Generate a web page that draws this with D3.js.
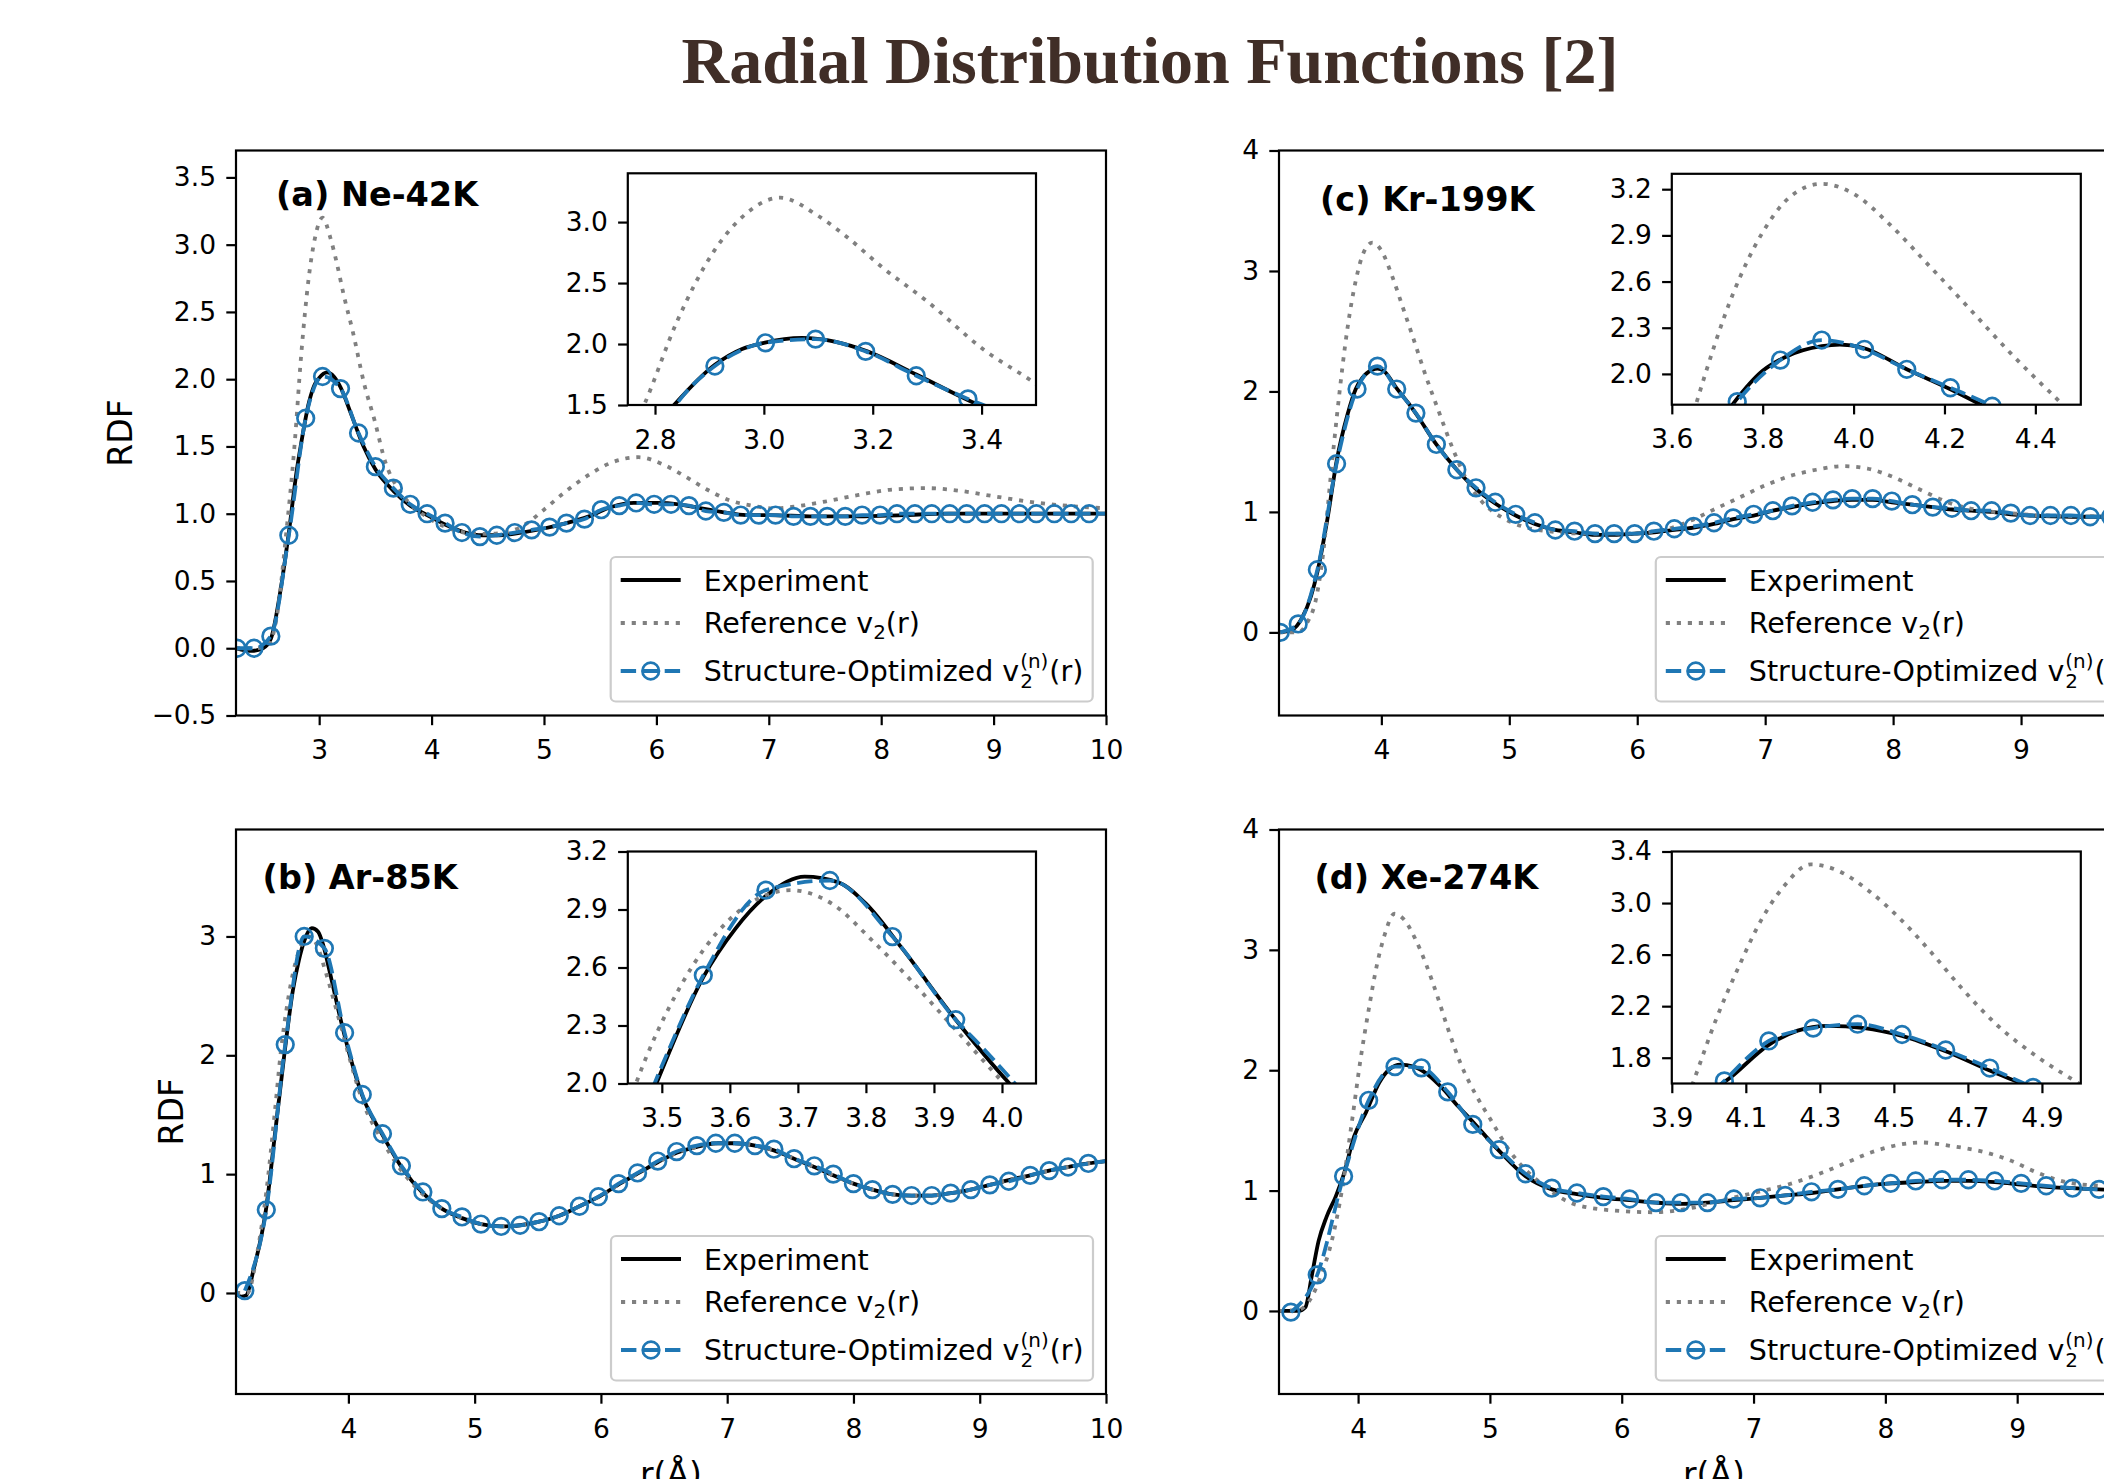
<!DOCTYPE html>
<html lang="en">
<head>
<meta charset="UTF-8">
<title>Radial Distribution Functions [2]</title>
<script src="https://cdn.jsdelivr.net/npm/d3@7"></script>
<style>
body { margin: 0; background: #fff; }
svg { display: block; }
text { font-family: "DejaVu Sans", sans-serif; }
</style>
</head>
<body>
<svg width="2104" height="1479"></svg>
<script>
// ---- data: [r (Å), g(r)] ----

// (a) Ne-42K
var neExp = [[2.26,0.00],[2.40,-0.02],[2.50,0.00],[2.57,0.07],[2.65,0.40],[2.73,0.86],[2.80,1.32],[2.835,1.50],[2.91,1.83],[2.96,1.96],[3.00,2.01],[3.07,2.05],[3.13,2.02],[3.19,1.94],[3.28,1.75],[3.395,1.50],[3.50,1.33],[3.66,1.17],[3.81,1.06],[3.96,0.99],[4.12,0.92],[4.30,0.86],[4.45,0.84],[4.60,0.84],[4.80,0.86],[5.00,0.89],[5.20,0.93],[5.40,0.98],[5.60,1.05],[5.80,1.08],[6.00,1.08],[6.20,1.07],[6.40,1.04],[6.60,1.01],[6.80,0.99],[7.00,0.99],[7.40,0.98],[7.80,0.98],[8.20,0.99],[8.60,1.00],[9.00,1.00],[10.0,1.00]];
var neRef = [[2.26,0.00],[2.45,0.00],[2.55,0.03],[2.63,0.27],[2.70,0.80],[2.78,1.50],[2.84,2.18],[2.908,2.76],[2.96,3.04],[3.03,3.20],[3.10,3.05],[3.152,2.88],[3.22,2.62],[3.30,2.35],[3.405,1.95],[3.491,1.70],[3.59,1.38],[3.70,1.19],[3.79,1.09],[3.95,0.98],[4.10,0.91],[4.30,0.86],[4.50,0.85],[4.70,0.87],[4.85,0.93],[5.00,1.03],[5.20,1.17],[5.42,1.30],[5.60,1.38],[5.84,1.42],[6.05,1.37],[6.25,1.28],[6.45,1.18],[6.65,1.10],[6.85,1.06],[7.05,1.04],[7.20,1.05],[7.50,1.09],[7.80,1.14],[8.10,1.18],[8.40,1.19],[8.70,1.17],[9.00,1.13],[9.40,1.08],[9.80,1.05],[10.0,1.04]];
var neOpt = [[2.27,0.00],[2.42,0.00],[2.57,0.09],[2.73,0.84],[2.88,1.71],[3.03,2.02],[3.19,1.93],[3.35,1.60],[3.50,1.35],[3.66,1.19],[3.81,1.07],[3.96,1.00],[4.12,0.93],[4.27,0.86],[4.43,0.83],[4.58,0.84],[4.74,0.86],[4.89,0.88],[5.05,0.90],[5.20,0.93],[5.36,0.96],[5.51,1.03],[5.67,1.06],[5.82,1.08],[5.98,1.07],[6.13,1.07],[6.29,1.06],[6.44,1.02],[6.60,1.01],[6.75,0.99],[6.91,0.99],[7.06,0.99],[7.22,0.98],[7.37,0.98],[7.52,0.98],[7.68,0.98],[7.83,0.99],[7.99,0.99],[8.14,1.00],[8.30,1.00],[8.45,1.00],[8.61,1.00],[8.76,1.00],[8.92,1.00],[9.07,1.00],[9.23,1.00],[9.38,1.00],[9.54,1.00],[9.69,1.00],[9.85,1.00],[10.0,1.00]];
var neOptInset = [[2.91,1.82],[3.003,2.01],[3.095,2.04],[3.187,1.94],[3.28,1.74],[3.375,1.55]];

// (b) Ar-85K
var arExp = [[3.11,0.00],[3.15,-0.03],[3.19,-0.02],[3.25,0.20],[3.35,0.72],[3.42,1.35],[3.492,2.00],[3.561,2.55],[3.608,2.80],[3.653,2.97],[3.71,3.07],[3.76,3.04],[3.80,2.93],[3.853,2.70],[3.932,2.33],[4.011,2.00],[4.11,1.66],[4.27,1.33],[4.42,1.06],[4.59,0.84],[4.74,0.71],[4.90,0.63],[5.05,0.58],[5.21,0.56],[5.36,0.57],[5.51,0.60],[5.67,0.65],[5.83,0.73],[6.00,0.82],[6.15,0.92],[6.30,1.01],[6.45,1.10],[6.60,1.18],[6.76,1.23],[6.91,1.26],[7.06,1.26],[7.22,1.24],[7.37,1.20],[7.53,1.13],[7.69,1.06],[7.84,0.99],[8.00,0.92],[8.15,0.87],[8.31,0.83],[8.46,0.82],[8.62,0.82],[8.77,0.84],[8.93,0.87],[9.08,0.91],[9.23,0.95],[9.40,0.99],[9.55,1.03],[9.70,1.06],[9.86,1.09],[10.0,1.11]];
var arRef = [[3.11,0.00],[3.20,0.00],[3.28,0.35],[3.35,0.85],[3.42,1.55],[3.462,2.00],[3.527,2.50],[3.60,2.85],[3.69,3.00],[3.75,2.93],[3.812,2.73],[3.934,2.27],[4.003,2.00],[4.11,1.62],[4.27,1.28],[4.42,1.03],[4.59,0.83],[4.74,0.71],[4.90,0.63],[5.05,0.58],[5.21,0.56],[5.36,0.57],[5.51,0.60],[5.67,0.65],[5.83,0.73],[6.00,0.82],[6.15,0.92],[6.30,1.01],[6.45,1.10],[6.60,1.18],[6.76,1.23],[6.91,1.26],[7.06,1.26],[7.22,1.24],[7.37,1.20],[7.53,1.13],[7.69,1.06],[7.84,0.99],[8.00,0.92],[8.15,0.87],[8.31,0.83],[8.46,0.82],[8.62,0.82],[8.77,0.84],[8.93,0.87],[9.08,0.91],[9.23,0.95],[9.40,0.99],[9.55,1.03],[9.70,1.06],[9.86,1.09],[10.0,1.11]];
var arOpt = [[3.18,0.02],[3.35,0.70],[3.50,2.09],[3.65,3.00],[3.81,2.90],[3.97,2.19],[4.11,1.67],[4.27,1.34],[4.42,1.07],[4.59,0.85],[4.74,0.71],[4.90,0.64],[5.05,0.58],[5.21,0.56],[5.36,0.57],[5.51,0.60],[5.67,0.65],[5.83,0.73],[5.98,0.81],[6.14,0.92],[6.29,1.01],[6.45,1.11],[6.60,1.19],[6.76,1.24],[6.91,1.26],[7.06,1.26],[7.22,1.24],[7.37,1.21],[7.53,1.13],[7.69,1.07],[7.84,1.00],[8.00,0.92],[8.15,0.87],[8.31,0.83],[8.46,0.82],[8.62,0.82],[8.77,0.84],[8.93,0.87],[9.08,0.91],[9.23,0.94],[9.40,0.99],[9.55,1.03],[9.70,1.06],[9.86,1.09],[10.0,1.11]];
var arOptInset = [[3.561,2.56],[3.653,3.00],[3.747,3.05],[3.839,2.76],[3.932,2.33]];

// (c) Kr-199K
var krExp = [[3.20,0.00],[3.30,0.02],[3.38,0.12],[3.45,0.30],[3.50,0.50],[3.58,0.95],[3.65,1.42],[3.736,1.81],[3.80,2.02],[3.85,2.11],[3.93,2.18],[3.97,2.19],[4.02,2.17],[4.117,2.03],[4.213,1.90],[4.28,1.80],[4.43,1.56],[4.59,1.35],[4.74,1.19],[4.89,1.07],[5.05,0.97],[5.20,0.90],[5.36,0.85],[5.51,0.83],[5.67,0.81],[5.82,0.81],[5.98,0.82],[6.13,0.83],[6.29,0.85],[6.44,0.87],[6.60,0.90],[6.75,0.94],[6.91,0.97],[7.06,1.01],[7.21,1.04],[7.37,1.07],[7.53,1.09],[7.68,1.10],[7.84,1.10],[7.99,1.08],[8.15,1.06],[8.31,1.04],[8.46,1.02],[8.61,1.01],[8.77,1.00],[8.92,0.98],[9.07,0.97],[9.40,0.96],[10.0,0.96]];
var krRef = [[3.20,0.00],[3.35,0.00],[3.42,0.08],[3.49,0.28],[3.55,0.70],[3.60,1.25],[3.654,1.81],[3.736,2.53],[3.80,2.92],[3.86,3.15],[3.93,3.235],[4.00,3.17],[4.08,2.97],[4.164,2.71],[4.25,2.44],[4.347,2.13],[4.45,1.83],[4.56,1.52],[4.68,1.24],[4.79,1.08],[4.95,0.95],[5.10,0.88],[5.30,0.84],[5.60,0.82],[5.90,0.82],[6.20,0.85],[6.40,0.92],[6.60,1.02],[6.80,1.12],[7.00,1.22],[7.20,1.30],[7.40,1.35],[7.61,1.38],[7.80,1.36],[8.00,1.29],[8.20,1.19],[8.48,1.06],[8.70,1.01],[8.91,0.99],[9.20,0.97],[10.0,0.96]];
var krOpt = [[3.21,0.00],[3.35,0.07],[3.50,0.52],[3.65,1.40],[3.81,2.02],[3.97,2.21],[4.12,2.02],[4.27,1.82],[4.43,1.56],[4.59,1.35],[4.74,1.20],[4.89,1.08],[5.05,0.98],[5.20,0.91],[5.36,0.85],[5.51,0.84],[5.67,0.82],[5.82,0.82],[5.98,0.82],[6.13,0.84],[6.29,0.86],[6.44,0.88],[6.60,0.91],[6.75,0.95],[6.91,0.98],[7.06,1.01],[7.21,1.05],[7.37,1.08],[7.53,1.10],[7.68,1.11],[7.84,1.11],[7.99,1.09],[8.15,1.06],[8.31,1.04],[8.46,1.03],[8.61,1.01],[8.77,1.01],[8.92,0.99],[9.07,0.97],[9.23,0.97],[9.39,0.97],[9.54,0.96],[9.70,0.96],[9.85,0.96],[10.0,0.96]];
var krOptInset = [[3.744,1.82],[3.839,2.09],[3.93,2.22],[4.024,2.16],[4.117,2.03],[4.213,1.91],[4.305,1.79]];

// (d) Xe-274K
var xeExp = [[3.40,0.00],[3.55,0.00],[3.60,0.03],[3.65,0.30],[3.70,0.58],[3.76,0.78],[3.83,0.95],[3.89,1.13],[3.97,1.45],[4.06,1.65],[4.162,1.90],[4.24,2.01],[4.32,2.047],[4.42,2.03],[4.522,1.97],[4.64,1.85],[4.759,1.70],[4.846,1.60],[5.07,1.33],[5.27,1.12],[5.47,1.01],[5.66,0.97],[5.86,0.94],[6.06,0.92],[6.26,0.90],[6.45,0.89],[6.65,0.90],[6.85,0.92],[7.05,0.94],[7.24,0.96],[7.44,0.98],[7.64,1.01],[7.84,1.04],[8.04,1.06],[8.23,1.07],[8.43,1.08],[8.63,1.08],[8.83,1.07],[9.03,1.05],[9.22,1.03],[9.42,1.02],[9.62,1.01],[10.0,1.00]];
var xeRef = [[3.40,0.00],[3.55,0.01],[3.65,0.12],[3.72,0.30],[3.80,0.58],[3.88,1.02],[3.954,1.58],[4.02,2.10],[4.08,2.50],[4.14,2.86],[4.20,3.12],[4.276,3.30],[4.35,3.25],[4.43,3.10],[4.516,2.88],[4.60,2.62],[4.68,2.35],[4.78,2.05],[4.891,1.80],[5.00,1.60],[5.15,1.33],[5.41,1.04],[5.66,0.88],[6.00,0.83],[6.25,0.82],[6.50,0.85],[6.80,0.93],[7.00,0.98],[7.26,1.05],[7.50,1.14],[7.68,1.22],[7.90,1.32],[8.10,1.38],[8.27,1.40],[8.50,1.37],[8.75,1.32],[8.95,1.25],[9.15,1.15],[9.37,1.07],[9.62,1.04],[10.0,1.02]];
var xeOpt = [[3.49,-0.01],[3.69,0.30],[3.89,1.12],[4.08,1.75],[4.28,2.03],[4.48,2.02],[4.68,1.82],[4.87,1.55],[5.07,1.34],[5.27,1.14],[5.47,1.02],[5.66,0.98],[5.86,0.95],[6.06,0.93],[6.26,0.90],[6.45,0.90],[6.65,0.90],[6.85,0.93],[7.05,0.94],[7.24,0.96],[7.44,0.99],[7.64,1.01],[7.84,1.04],[8.04,1.06],[8.23,1.08],[8.43,1.09],[8.63,1.09],[8.83,1.08],[9.03,1.06],[9.22,1.04],[9.42,1.02],[9.62,1.01],[9.82,1.00],[10.0,1.00]];
var xeOptInset = [[4.042,1.62],[4.162,1.93],[4.282,2.03],[4.402,2.06],[4.522,1.98],[4.64,1.86],[4.759,1.72],[4.876,1.57]];

// tick values
var neXTicks = [3, 4, 5, 6, 7, 8, 9, 10];
var neYTicks = [-0.5, 0, 0.5, 1.0, 1.5, 2.0, 2.5, 3.0, 3.5];
var neInXTicks = [2.8, 3.0, 3.2, 3.4];
var neInYTicks = [1.5, 2.0, 2.5, 3.0];
var arXTicks = [4, 5, 6, 7, 8, 9, 10];
var arYTicks = [0, 1, 2, 3];
var arInXTicks = [3.5, 3.6, 3.7, 3.8, 3.9, 4.0];
var arInYTicks = [2.0, 2.3, 2.6, 2.9, 3.2];
var krXTicks = [4, 5, 6, 7, 8, 9, 10];
var krYTicks = [0, 1, 2, 3, 4];
var krInXTicks = [3.6, 3.8, 4.0, 4.2, 4.4];
var krInYTicks = [2.0, 2.3, 2.6, 2.9, 3.2];
var xeXTicks = [4, 5, 6, 7, 8, 9, 10];
var xeYTicks = [0, 1, 2, 3, 4];
var xeInXTicks = [3.9, 4.1, 4.3, 4.5, 4.7, 4.9];
var xeInYTicks = [1.8, 2.2, 2.6, 3.0, 3.4];

var titleText = "Radial Distribution Functions [2]";

// ---- layout ----
var panels = [
    {label: "(a) Ne-42K", exp: neExp, ref: neRef, opt: neOpt, optIn: neOptInset,
     box: [236, 150.5, 1106, 715.5], xd: [2.26, 10], yd: [-0.5, 3.7], xt: neXTicks, yt: neYTicks, yf: ".1f",
     inBox: [627.8, 173.3, 1036, 405], inXd: [2.75, 3.5], inYd: [1.5, 3.4], inXt: neInXTicks, inYt: neInYTicks,
     leg: [610.7, 557], lab: [276, 205.5], ylab: 120, xlab: false},
    {label: "(b) Ar-85K", exp: arExp, ref: arRef, opt: arOpt, optIn: arOptInset,
     box: [236, 829.5, 1106, 1394], xd: [3.11, 10], yd: [-0.85, 3.9], xt: arXTicks, yt: arYTicks, yf: "d",
     inBox: [627.8, 851.5, 1036, 1083.5], inXd: [3.45, 4.05], inYd: [2.0, 3.2], inXt: arInXTicks, inYt: arInYTicks,
     leg: [611, 1236], lab: [262.6, 889], ylab: 171, xlab: true},
    {label: "(c) Kr-199K", exp: krExp, ref: krRef, opt: krOpt, optIn: krOptInset,
     box: [1279, 150.5, 2149, 715.5], xd: [3.2, 10], yd: [-0.69, 4], xt: krXTicks, yt: krYTicks, yf: "d",
     inBox: [1671.8, 173.8, 2080.8, 404.7], inXd: [3.6, 4.5], inYd: [1.8, 3.3], inXt: krInXTicks, inYt: krInYTicks,
     leg: [1655.8, 557], lab: [1320, 211], ylab: null, xlab: false},
    {label: "(d) Xe-274K", exp: xeExp, ref: xeRef, opt: xeOpt, optIn: xeOptInset,
     box: [1279, 829.5, 2149, 1394], xd: [3.4, 10], yd: [-0.69, 4], xt: xeXTicks, yt: xeYTicks, yf: "d",
     inBox: [1671.8, 851.5, 2080.8, 1083.5], inXd: [3.9, 5.005], inYd: [1.6, 3.4], inXt: xeInXTicks, inYt: xeInYTicks,
     leg: [1655.8, 1236], lab: [1314.5, 889], ylab: null, xlab: true}
];

var BLUE = "#1f77b4", GREY = "#808080";
var LW = 3.8, SPINE = 2.2, TICK = 9.7, TICKFONT = "26.5px";

var svg = d3.select("svg");
var defs = svg.append("defs");

svg.append("text")
    .attr("x", 1150).attr("y", 83)
    .attr("text-anchor", "middle")
    .style("font-family", "'Liberation Serif', 'Times New Roman', serif")
    .style("font-weight", "bold")
    .style("font-size", "66px")
    .attr("fill", "#402e27")
    .text(titleText);

panels.forEach(function(p, i) { drawPanel(p, i); });

function drawPanel(p, i) {
    var g = svg.append("g");
    var x = d3.scaleLinear().domain(p.xd).range([p.box[0], p.box[2]]);
    var y = d3.scaleLinear().domain(p.yd).range([p.box[3], p.box[1]]);

    var cid = "clip-main-" + i;
    addClip(cid, p.box);
    var markers = p.opt.filter(function(d) { return d[0] < p.xd[1] - 0.02; });
    drawSeries(g, x, y, p.exp, p.ref, p.opt, markers, cid);

    drawAxes(g, x, y, p.box, p.xt, p.yt, "d", p.yf);
    frame(g, p.box);

    g.append("text")
        .attr("x", p.lab[0]).attr("y", p.lab[1])
        .style("font-weight", "bold").style("font-size", "33.5px")
        .text(p.label);

    if (p.ylab) {
        g.append("text")
            .attr("transform", "translate(" + p.ylab + "," + ((p.box[1] + p.box[3]) / 2) + ") rotate(-90)")
            .attr("text-anchor", "middle").attr("dy", "0.35em")
            .style("font-size", "33px")
            .text("RDF");
    }
    if (p.xlab) {
        g.append("text")
            .attr("x", (p.box[0] + p.box[2]) / 2).attr("y", 1486)
            .attr("text-anchor", "middle")
            .style("font-size", "33px")
            .text("r(Å)");
    }

    drawLegend(g, p.leg[0], p.leg[1]);

    // inset axes
    var gi = svg.append("g");
    var xi = d3.scaleLinear().domain(p.inXd).range([p.inBox[0], p.inBox[2]]);
    var yi = d3.scaleLinear().domain(p.inYd).range([p.inBox[3], p.inBox[1]]);
    gi.append("rect")
        .attr("x", p.inBox[0]).attr("y", p.inBox[1])
        .attr("width", p.inBox[2] - p.inBox[0]).attr("height", p.inBox[3] - p.inBox[1])
        .attr("fill", "white");
    var icid = "clip-inset-" + i;
    addClip(icid, p.inBox);
    var lo = d3.min(p.optIn, function(d) { return d[0]; }),
        hi = d3.max(p.optIn, function(d) { return d[0]; });
    var optLine = p.opt.filter(function(d) { return d[0] < lo || d[0] > hi; })
        .concat(p.optIn)
        .sort(function(a, b) { return a[0] - b[0]; });
    drawSeries(gi, xi, yi, p.exp, p.ref, optLine, p.optIn, icid);
    drawAxes(gi, xi, yi, p.inBox, p.inXt, p.inYt, ".1f", ".1f");
    frame(gi, p.inBox);
}

function addClip(id, b) {
    defs.append("clipPath").attr("id", id).append("rect")
        .attr("x", b[0]).attr("y", b[1])
        .attr("width", b[2] - b[0]).attr("height", b[3] - b[1]);
}

function drawSeries(g, x, y, exp, ref, optLine, optMarks, clipId) {
    var line = d3.line()
        .x(function(d) { return x(d[0]); })
        .y(function(d) { return y(d[1]); })
        .curve(d3.curveMonotoneX);
    var cg = g.append("g").attr("clip-path", "url(#" + clipId + ")");
    cg.append("path").datum(exp).attr("d", line)
        .attr("fill", "none").attr("stroke", "black").attr("stroke-width", LW);
    cg.append("path").datum(ref).attr("d", line)
        .attr("fill", "none").attr("stroke", GREY).attr("stroke-width", LW)
        .attr("stroke-dasharray", "4.15,6.86");
    cg.append("path").datum(optLine).attr("d", line)
        .attr("fill", "none").attr("stroke", BLUE).attr("stroke-width", LW)
        .attr("stroke-dasharray", "15.4,6.6");
    cg.selectAll("circle").data(optMarks).join("circle")
        .attr("cx", function(d) { return x(d[0]); })
        .attr("cy", function(d) { return y(d[1]); })
        .attr("r", 8.3)
        .attr("fill", "none").attr("stroke", BLUE).attr("stroke-width", 2.7);
}

function drawAxes(g, x, y, b, xt, yt, xf, yf) {
    var ax = g.append("g").attr("transform", "translate(0," + b[3] + ")")
        .call(d3.axisBottom(x).tickValues(xt).tickFormat(d3.format(xf))
            .tickSize(TICK).tickPadding(15).tickSizeOuter(0));
    var ay = g.append("g").attr("transform", "translate(" + b[0] + ",0)")
        .call(d3.axisLeft(y).tickValues(yt).tickFormat(d3.format(yf))
            .tickSize(TICK).tickPadding(10.3).tickSizeOuter(0));
    [ax, ay].forEach(function(a) {
        a.attr("font-family", null).attr("font-size", null);
        a.select(".domain").remove();
        a.selectAll("line").attr("stroke", "black").attr("stroke-width", SPINE);
        a.selectAll("text").attr("fill", "black").style("font-size", TICKFONT);
    });
}

function frame(g, b) {
    g.append("rect")
        .attr("x", b[0]).attr("y", b[1])
        .attr("width", b[2] - b[0]).attr("height", b[3] - b[1])
        .attr("fill", "none").attr("stroke", "black").attr("stroke-width", SPINE);
}

function drawLegend(g, lx, ly) {
    var fs = 28.5;
    g.append("rect")
        .attr("x", lx).attr("y", ly).attr("width", 482).attr("height", 144.5)
        .attr("rx", 5).attr("ry", 5)
        .attr("fill", "white").attr("fill-opacity", 0.8)
        .attr("stroke", "#cccccc").attr("stroke-width", 2.2);

    // Experiment
    g.append("line").attr("x1", lx + 10).attr("x2", lx + 70)
        .attr("y1", ly + 23).attr("y2", ly + 23)
        .attr("stroke", "black").attr("stroke-width", LW);
    g.append("text").attr("x", lx + 93).attr("y", ly + 33.6)
        .style("font-size", fs + "px").text("Experiment");

    // Reference
    g.append("line").attr("x1", lx + 10).attr("x2", lx + 70)
        .attr("y1", ly + 66).attr("y2", ly + 66)
        .attr("stroke", GREY).attr("stroke-width", LW).attr("stroke-dasharray", "4.15,6.86");
    var t2 = g.append("text").attr("x", lx + 93).attr("y", ly + 75.8).style("font-size", fs + "px");
    t2.append("tspan").text("Reference v");
    t2.append("tspan").attr("dy", 6).style("font-size", (fs * 0.7) + "px").text("2");
    t2.append("tspan").attr("dy", -6).text("(r)");

    // Structure-Optimized
    g.append("line").attr("x1", lx + 10).attr("x2", lx + 70)
        .attr("y1", ly + 114).attr("y2", ly + 114)
        .attr("stroke", BLUE).attr("stroke-width", LW).attr("stroke-dasharray", "15.4,6.6");
    g.append("circle").attr("cx", lx + 40).attr("cy", ly + 114).attr("r", 8.3)
        .attr("fill", "none").attr("stroke", BLUE).attr("stroke-width", 2.7);
    var base = ly + 124;
    var t3 = g.append("text").attr("x", lx + 93).attr("y", base)
        .style("font-size", fs + "px").text("Structure-Optimized v");
    var x0 = lx + 93 + t3.node().getComputedTextLength();
    var sub = g.append("text").attr("x", x0 + 1).attr("y", base + 7)
        .style("font-size", (fs * 0.7) + "px").text("2");
    var sup = g.append("text").attr("x", x0 + 1).attr("y", base - 13)
        .style("font-size", (fs * 0.7) + "px").text("(n)");
    var w = Math.max(sub.node().getComputedTextLength(), sup.node().getComputedTextLength());
    g.append("text").attr("x", x0 + 2 + w).attr("y", base)
        .style("font-size", fs + "px").text("(r)");
}
</script>
</body>
</html>
